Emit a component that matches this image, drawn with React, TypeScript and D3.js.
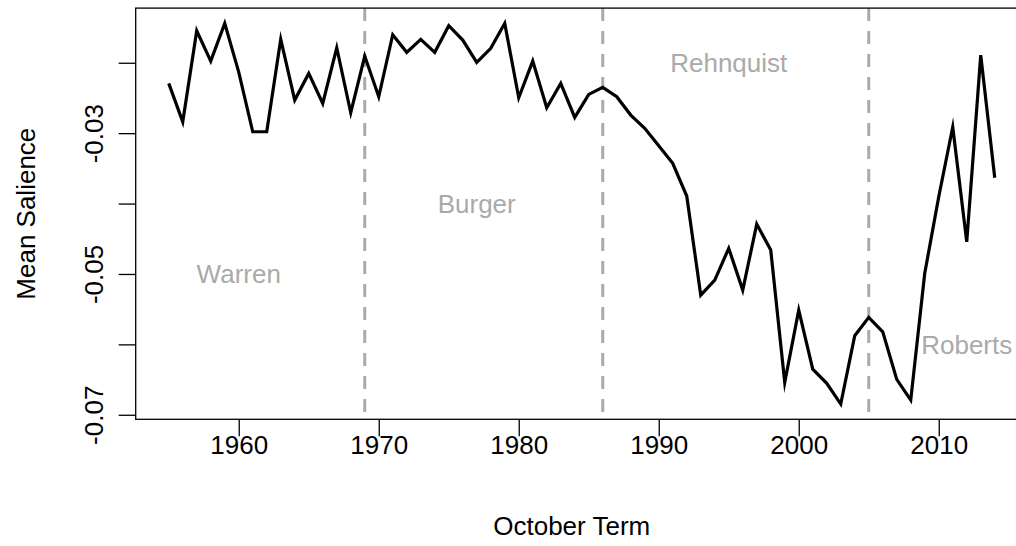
import React, { useEffect, useRef } from 'react';
import * as d3 from 'd3';

// October terms and the mean salience per term
const terms = [
  1955, 1956, 1957, 1958, 1959, 1960, 1961, 1962, 1963, 1964,
  1965, 1966, 1967, 1968, 1969, 1970, 1971, 1972, 1973, 1974,
  1975, 1976, 1977, 1978, 1979, 1980, 1981, 1982, 1983, 1984,
  1985, 1986, 1987, 1988, 1989, 1990, 1991, 1992, 1993, 1994,
  1995, 1996, 1997, 1998, 1999, 2000, 2001, 2002, 2003, 2004,
  2005, 2006, 2007, 2008, 2009, 2010, 2011, 2012, 2013, 2014,
];
const salience = [
  -0.02293, -0.02838, -0.01545, -0.01976, -0.0144, -0.02132, -0.0298, -0.0298, -0.01668, -0.0253,
  -0.02151, -0.02577, -0.01787, -0.0271, -0.01905, -0.02483, -0.01602, -0.01852, -0.01668, -0.01852,
  -0.01474, -0.01678, -0.01994, -0.01795, -0.0144, -0.02497, -0.01976, -0.02639, -0.02293, -0.02776,
  -0.02449, -0.02349, -0.02483, -0.02743, -0.02932, -0.03179, -0.03429, -0.03893, -0.053, -0.05087,
  -0.04636, -0.05229, -0.04291, -0.04661, -0.0654, -0.05513, -0.06351, -0.06554, -0.06848, -0.05878,
  -0.05617, -0.05821, -0.06497, -0.06791, -0.04991, -0.03903, -0.02913, -0.04543, -0.01891, -0.03634,
];

// court boundaries (dashed lines) and court labels
const courtStarts = [1969, 1986, 2005];
const courtNames = ['Warren', 'Burger', 'Rehnquist', 'Roberts'];
const courtLabelTerm = [1960, 1977, 1995, 2012];
const courtLabelValue = [-0.05, -0.04, -0.02, -0.06];

const xTicks = [1960, 1970, 1980, 1990, 2000, 2010];
const yTicks = [-0.07, -0.06, -0.05, -0.04, -0.03, -0.02];
const yTickLabels = ['-0.07', '', '-0.05', '', '-0.03', ''];

const W = 1016;
const H = 546;
const FONT = '"Liberation Sans", Arial, Helvetica, sans-serif';
const FS = 26;
const GREY = '#aaaaaa';

export default function App() {
  const ref = useRef<SVGSVGElement>(null);

  useEffect(() => {
    const svg = d3.select(ref.current);
    svg.selectAll('*').remove();

    const left = 135.7, top = 8.1, bottom = 419.3;
    // R style 4% padding of the data range
    const [x0, x1] = d3.extent(terms) as [number, number];
    const [y0, y1] = d3.extent(salience) as [number, number];
    const px = (x1 - x0) * 0.04, py = (y1 - y0) * 0.04;
    const right = left + (x1 - x0 + 2 * px) * 14;

    const x = d3.scaleLinear().domain([x0 - px, x1 + px]).range([left, right]);
    const y = d3.scaleLinear().domain([y0 - py, y1 + py]).range([bottom, top]);

    // dashed court boundaries
    svg.append('g')
      .selectAll('line')
      .data(courtStarts)
      .enter()
      .append('line')
        .attr('x1', (d) => x(d))
        .attr('x2', (d) => x(d))
        .attr('y1', top)
        .attr('y2', bottom)
        .attr('stroke', GREY)
        .attr('stroke-width', 3)
        .attr('stroke-dasharray', '13,10');

    // court labels
    svg.append('g')
      .selectAll('text')
      .data(courtNames)
      .enter()
      .append('text')
        .attr('x', (d, i) => x(courtLabelTerm[i]))
        .attr('y', (d, i) => y(courtLabelValue[i]) + FS * 0.36)
        .attr('text-anchor', 'middle')
        .attr('fill', GREY)
        .style('font-family', FONT)
        .style('font-size', FS + 'px')
        .text((d) => d);

    const line = d3.line<number>()
      .x((d, i) => x(terms[i]))
      .y((d) => y(d));

    svg.append('path')
      .datum(salience)
      .attr('d', line)
      .attr('fill', 'none')
      .attr('stroke', '#000')
      .attr('stroke-width', 3.2)
      .attr('stroke-linejoin', 'miter')
      .attr('stroke-miterlimit', 10);

    // plot box
    svg.append('rect')
      .attr('x', left)
      .attr('y', top)
      .attr('width', right - left)
      .attr('height', bottom - top)
      .attr('fill', 'none')
      .attr('stroke', '#000')
      .attr('stroke-width', 1.3);

    const xaxis = d3.axisBottom(x)
      .tickValues(xTicks)
      .tickSize(17)
      .tickPadding(9)
      .tickFormat((d) => String(d));
    const gx = svg.append('g')
      .attr('transform', 'translate(0,' + bottom + ')')
      .call(xaxis);
    gx.select('.domain').remove();

    const yaxis = d3.axisLeft(y)
      .tickValues(yTicks)
      .tickSize(17)
      .tickFormat((d, i) => yTickLabels[i]);
    const gy = svg.append('g')
      .attr('transform', 'translate(' + left + ',0)')
      .call(yaxis);
    gy.select('.domain').remove();

    svg.selectAll('.tick line').attr('stroke', '#000').attr('stroke-width', 1.3);
    svg.selectAll('.tick text')
      .style('font-family', FONT)
      .style('font-size', FS + 'px')
      .attr('fill', '#000');
    gx.selectAll('.tick text').attr('y', 0).attr('dy', 0).attr('transform', 'translate(0,35)');
    gy.selectAll('.tick text')
      .attr('x', 0)
      .attr('dy', 0)
      .attr('text-anchor', 'middle')
      .attr('transform', 'translate(-33,0) rotate(-90)');

    svg.append('text')
      .attr('x', (left + right) / 2 - 10)
      .attr('y', 535)
      .attr('text-anchor', 'middle')
      .style('font-family', FONT)
      .style('font-size', FS + 'px')
      .text('October Term');

    svg.append('text')
      .attr('transform', 'translate(35,' + (top + bottom) / 2 + ') rotate(-90)')
      .attr('text-anchor', 'middle')
      .style('font-family', FONT)
      .style('font-size', FS + 'px')
      .text('Mean Salience');
  }, []);

  return (
    <svg
      ref={ref}
      width={W}
      height={H}
      style={{ position: 'absolute', left: 0, top: 0, background: '#fff', display: 'block' }}
    />
  );
}
